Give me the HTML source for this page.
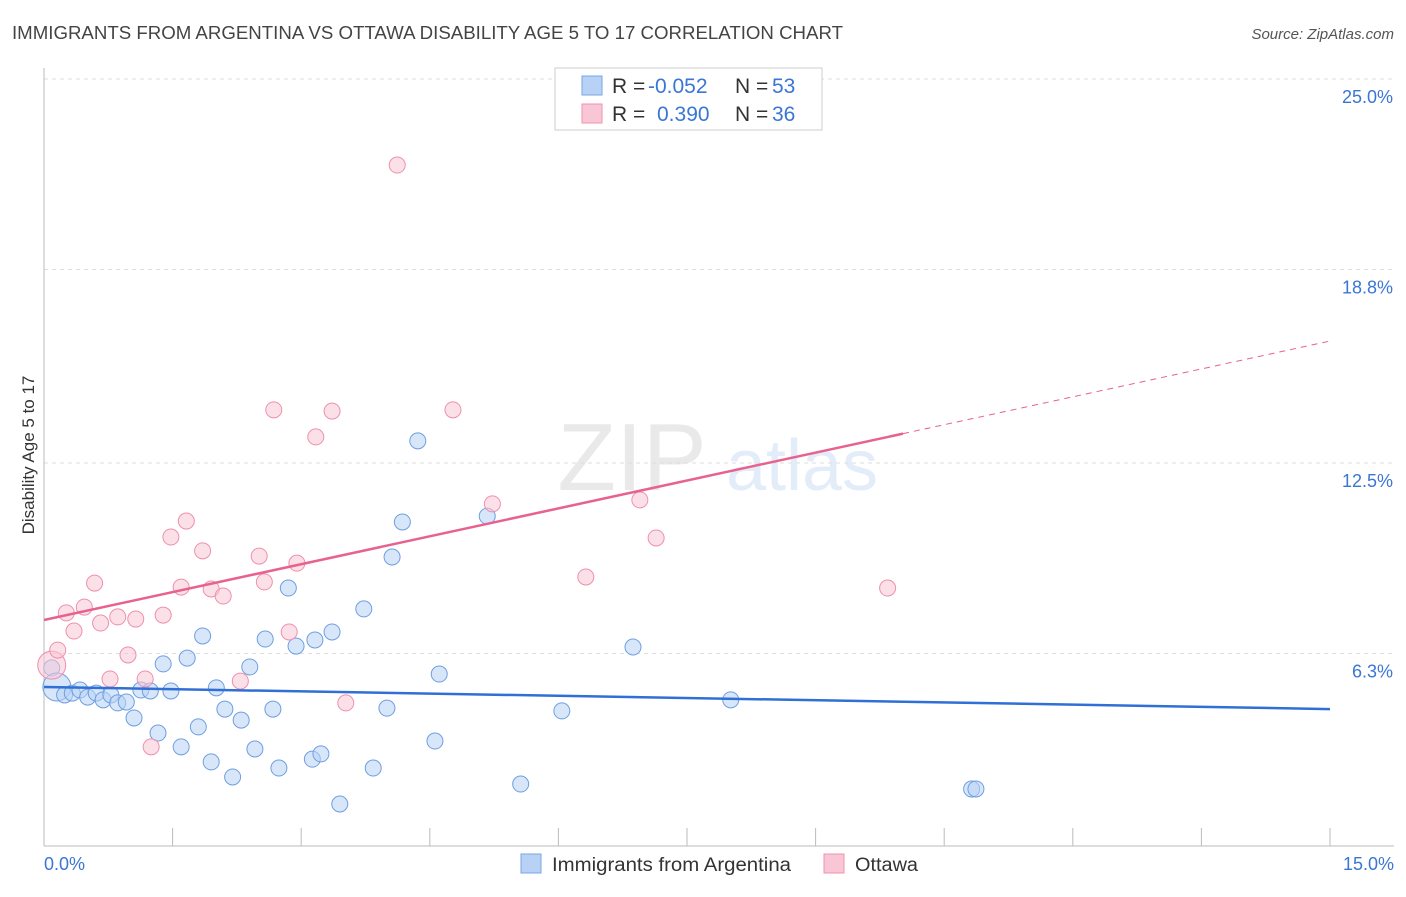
<!DOCTYPE html>
<html><head><meta charset="utf-8"><style>
body{margin:0;background:#fff;font-family:"Liberation Sans",sans-serif;}
svg text{font-family:"Liberation Sans",sans-serif;}
</style></head><body>
<svg id="chart" width="1406" height="892" viewBox="0 0 1406 892" xmlns="http://www.w3.org/2000/svg">
<text x="12" y="39" font-size="18" fill="#444" textLength="831" lengthAdjust="spacingAndGlyphs">IMMIGRANTS FROM ARGENTINA VS OTTAWA DISABILITY AGE 5 TO 17 CORRELATION CHART</text>
<text x="1394" y="39" font-size="15" fill="#555" text-anchor="end" font-style="italic">Source: ZipAtlas.com</text>
<text transform="translate(34,455) rotate(-90)" font-size="17" fill="#333" text-anchor="middle">Disability Age 5 to 17</text>
<g opacity="0.18">
<text x="632" y="490" font-size="96" fill="#888" text-anchor="middle" font-family="Liberation Serif">ZIP</text>
<text x="802" y="490" font-size="72" fill="#6a9ae0" text-anchor="middle">atlas</text>
</g>
<g id="grid"></g><g id="axes"></g><g id="marks"></g>
<g>
<rect x="555" y="68" width="267" height="62" fill="#fff" stroke="#ccc"/>
<rect x="582" y="76" width="20" height="19" fill="#b8d2f5" stroke="#7aa6e6"/>
<rect x="582" y="104" width="20" height="19" fill="#f9c6d6" stroke="#ee90b0"/>
<text x="612" y="93" font-size="21" fill="#333">R = <tspan x="648" fill="#3a76d4">-0.052</tspan><tspan x="735">N = </tspan><tspan x="772" fill="#3a76d4">53</tspan></text>
<text x="612" y="121" font-size="21" fill="#333">R = <tspan x="657" fill="#3a76d4">0.390</tspan><tspan x="735">N = </tspan><tspan x="772" fill="#3a76d4">36</tspan></text>
</g>
<g>
<rect x="521" y="854" width="20" height="19" fill="#b8d2f5" stroke="#7aa6e6"/>
<text x="552" y="871" font-size="19" fill="#333" textLength="239" lengthAdjust="spacingAndGlyphs">Immigrants from Argentina</text>
<rect x="824" y="854" width="20" height="19" fill="#f9c6d6" stroke="#ee90b0"/>
<text x="855" y="871" font-size="19" fill="#333" textLength="63" lengthAdjust="spacingAndGlyphs">Ottawa</text>
</g>
</svg>
<script>
const blueX=[0.09,0.15,0.24,0.33,0.42,0.51,0.61,0.69,0.78,0.86,0.96,1.05,1.13,1.24,1.33,1.39,1.48,1.60,1.67,1.80,1.85,1.95,2.01,2.11,2.20,2.30,2.40,2.46,2.58,2.67,2.74,2.85,2.94,3.13,3.16,3.23,3.36,3.45,3.73,3.84,4.00,4.06,4.18,4.36,4.56,4.61,5.17,5.56,6.04,6.87,8.01,10.82,10.87];
const blueY=[5.83,5.21,4.95,5.01,5.11,4.88,5.01,4.79,4.95,4.69,4.72,4.20,5.11,5.08,3.71,5.96,5.08,3.26,6.15,3.91,6.87,2.77,5.18,4.49,2.28,4.13,5.86,3.19,6.77,4.49,2.57,8.43,6.54,2.86,6.74,3.03,7.00,1.40,7.75,2.57,4.52,9.44,10.58,13.22,3.45,5.63,10.77,2.05,4.43,6.51,4.79,1.89,1.89];
const pinkX=[0.09,0.16,0.26,0.35,0.47,0.59,0.66,0.77,0.86,0.98,1.07,1.18,1.25,1.39,1.48,1.60,1.66,1.85,1.95,2.09,2.29,2.51,2.57,2.68,2.86,2.95,3.17,3.36,3.52,4.12,4.77,5.23,6.32,6.95,7.14,9.84];
const pinkY=[5.92,6.41,7.62,7.03,7.81,8.59,7.29,5.47,7.49,6.25,7.42,5.47,3.26,7.55,10.09,8.46,10.61,9.64,8.40,8.17,5.40,9.47,8.63,14.23,7.00,9.24,13.35,14.19,4.69,22.20,14.23,11.17,8.79,11.30,10.06,8.43];
const blueTrend=[5.21,4.49];
const pinkTrend=[7.39,16.47];
const pinkSolidEnd=10.02;
const yTicks=[25.0,18.8,12.5,6.3];
const yTickLabels=["25.0%","18.8%","12.5%","6.3%"];
const xTicks=[0,1.5,3,4.5,6,7.5,9,10.5,12,13.5,15];
const NS="http://www.w3.org/2000/svg";
const sx=v=>44+v/15*1286;
const sy=v=>847-v*30.72;
function mk(parent,tag,attrs){const e=document.createElementNS(NS,tag);for(const k in attrs)e.setAttribute(k,attrs[k]);document.getElementById(parent).appendChild(e);return e;}
yTicks.forEach((t,i)=>{
 const g=mk('grid','line',{x1:44,x2:1394,y1:sy(t),y2:sy(t),stroke:'#ddd','stroke-dasharray':'4,4'});
 
 
 const l=mk('axes','text',{x:1393,y:sy(t)+24,'font-size':18,fill:'#3a76d4','text-anchor':'end'});
 l.textContent=yTickLabels[i];
 
 
});
const ax=mk('axes','line',{x1:44,x2:44,y1:68,y2:846,stroke:'#bbb'});


const bx=mk('axes','line',{x1:44,x2:1394,y1:846,y2:846,stroke:'#bbb'});


xTicks.forEach(t=>{
 const e=mk('axes','line',{x1:sx(t),x2:sx(t),y1:828,y2:846,stroke:'#bbb'});
 
 
});
const xl0=mk('axes','text',{x:44,y:870,'font-size':18,fill:'#3a76d4'});xl0.textContent=xTicks[0].toFixed(1)+'%';


const xl1=mk('axes','text',{x:1394,y:870,'font-size':18,fill:'#3a76d4','text-anchor':'end'});xl1.textContent=xTicks[10].toFixed(1)+'%';


function pts(xs,ys,fill,stroke,name,bigIdx){xs.forEach((x,i)=>{
 const big=(i===bigIdx);
 const c=mk('marks','circle',{cx:sx(x),cy:sy(ys[i]),r:big?14:8,fill:fill,'fill-opacity':0.55,stroke:stroke,'stroke-width':1});
 
 
});}
pts(blueX,blueY,'#b8d2f5','#6e9fe0','point-argentina',1);
pts(pinkX,pinkY,'#f9c6d6','#ee8fb0','point-ottawa',0);
const bt=mk('marks','line',{x1:sx(0),y1:sy(blueTrend[0]),x2:sx(15),y2:sy(blueTrend[1]),stroke:'#2f6fd6','stroke-width':2.5});


const py=v=>pinkTrend[0]+(pinkTrend[1]-pinkTrend[0])*v/15;
const pt=mk('marks','line',{x1:sx(0),y1:sy(pinkTrend[0]),x2:sx(pinkSolidEnd),y2:sy(py(pinkSolidEnd)),stroke:'#e8628f','stroke-width':2.5});


const pd=mk('marks','line',{x1:sx(pinkSolidEnd),y1:sy(py(pinkSolidEnd)),x2:sx(15),y2:sy(pinkTrend[1]),stroke:'#e8628f','stroke-width':1,'stroke-dasharray':'6,5'});


</script>
</body></html>
